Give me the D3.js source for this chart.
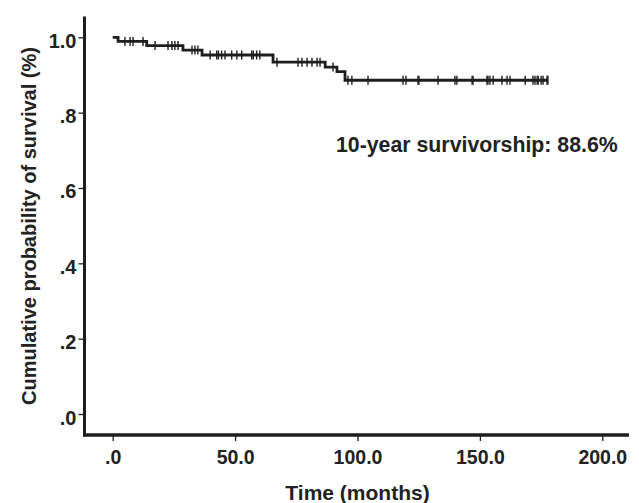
<!DOCTYPE html>
<html>
<head>
<meta charset="utf-8">
<script src="https://cdn.jsdelivr.net/npm/d3@7/dist/d3.min.js"></script>
<style>
  html, body { margin: 0; padding: 0; background: #fff; }
  svg { display: block; }
  text { font-family: "Liberation Sans", Arial, sans-serif; font-weight: bold; fill: #222; }
</style>
</head>
<body>
<svg id="chart" width="639" height="503"></svg>
<script>
// ---- Data ----
const eventTimes    = [0,   2.2,   13.9,  28.7,  36.5,  65.5,  86.8,  91.6,  94.9];
const survivalAfter = [1.0, 0.989, 0.978, 0.966, 0.953, 0.934, 0.921, 0.909, 0.886];
const lastFollowUp = 177.8;
const censorTimes = [
  5.0, 7.1, 8.3, 12.4,
  17.3, 22.6, 24.2, 25.4, 26.7,
  32.4, 33.6, 34.8,
  39.8, 42.5, 43.2, 44.5, 45.9, 48.6, 50.7, 52.7, 56.8, 57.4, 58.8, 60.1,
  67.1, 75.7, 77.3, 79.4, 81.4, 83.5, 84.7,
  90.0,
  96.1, 97.7, 104.3, 118.6, 119.8, 124.7, 125.1, 132.9, 139.8, 140.6, 146.8, 147.2,
  152.9, 153.3, 154.1, 155.4, 159.0, 161.1, 162.3, 168.5, 171.7, 172.5, 173.4, 173.8,
  175.0, 175.8, 177.4, 177.8
];
const xTickValues = [0, 50, 100, 150, 200];
const xTickLabels = [".0", "50.0", "100.0", "150.0", "200.0"];
const yTickValues = [0, 0.2, 0.4, 0.6, 0.8, 1.0];
const yTickLabels = [".0", ".2", ".4", ".6", ".8", "1.0"];
const annotation = "10-year survivorship: 88.6%";
const xTitle = "Time (months)";
const yTitle = "Cumulative probability of survival (%)";

// ---- Scales ----
const svg = d3.select("#chart");
const x = d3.scaleLinear().domain([0, 200]).range([112.7, 602.3]);
const y = d3.scaleLinear().domain([0, 1]).range([414, 37.3]);

const ink = "#1e1e1e";

// ---- Axes ----
const xAxis = d3.axisBottom(x)
  .tickValues(xTickValues)
  .tickFormat((d, i) => xTickLabels[i])
  .tickSize(6).tickPadding(9).tickSizeOuter(0);
const gx = svg.append("g").attr("transform", "translate(0,435)").call(xAxis);
gx.select(".domain").remove();
gx.selectAll(".tick line").attr("stroke", ink).attr("stroke-width", 1.3);
gx.selectAll(".tick text").style("font-size", "19.5px").attr("fill", "#222");

const yAxis = d3.axisLeft(y)
  .tickValues(yTickValues)
  .tickFormat((d, i) => yTickLabels[i])
  .tickSize(6).tickPadding(2).tickSizeOuter(0);
const gy = svg.append("g").attr("transform", "translate(84.5,0)").call(yAxis);
gy.select(".domain").remove();
gy.selectAll(".tick line").attr("stroke", ink).attr("stroke-width", 1.3);
gy.selectAll(".tick text").style("font-size", "20px").attr("fill", "#222").attr("dy", "0.5em");

// axis frame lines (L-shape)
svg.append("line").attr("x1", 84.5).attr("x2", 84.5).attr("y1", 16.5).attr("y2", 436.5)
  .attr("stroke", ink).attr("stroke-width", 3);
svg.append("line").attr("x1", 83).attr("x2", 629).attr("y1", 435).attr("y2", 435)
  .attr("stroke", ink).attr("stroke-width", 3.5);

// ---- KM step curve ----
const stepPts = eventTimes.map((t, i) => [t, survivalAfter[i]]);
stepPts.push([lastFollowUp, survivalAfter[survivalAfter.length - 1]]);
const line = d3.line().x(d => x(d[0])).y(d => y(d[1])).curve(d3.curveStepAfter);
svg.append("path").datum(stepPts)
  .attr("d", line).attr("fill", "none").attr("stroke", ink).attr("stroke-width", 2.8);

// survival at time t (step function)
function survAt(t) {
  let s = survivalAfter[0];
  for (let i = 0; i < eventTimes.length; i++) if (eventTimes[i] <= t) s = survivalAfter[i];
  return s;
}
svg.append("g").selectAll("line").data(censorTimes).join("line")
  .attr("x1", d => x(d)).attr("x2", d => x(d))
  .attr("y1", d => y(survAt(d)) - 4.5).attr("y2", d => y(survAt(d)) + 4.5)
  .attr("stroke", ink).attr("stroke-width", 1.4);

// ---- Text ----
svg.append("text").attr("x", 336).attr("y", 152)
  .style("font-size", "21.3px").text(annotation);
svg.append("text").attr("x", x(100)).attr("y", 500).attr("text-anchor", "middle")
  .style("font-size", "21px").text(xTitle);
svg.append("text").attr("transform", "translate(36,226) rotate(-90)").attr("text-anchor", "middle")
  .style("font-size", "20px").text(yTitle);
</script>
</body>
</html>
